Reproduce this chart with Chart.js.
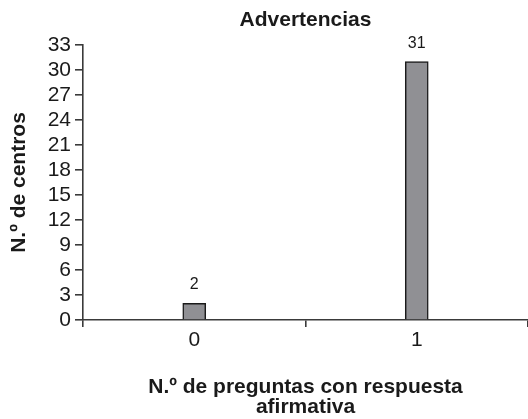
<!DOCTYPE html>
<html>
<head>
<meta charset="utf-8">
<script src="https://cdn.jsdelivr.net/npm/chart.js@4.4.1/dist/chart.umd.min.js"></script>
<style>
  html, body { margin: 0; padding: 0; background: #fff; }
  #wrap { width: 528px; height: 419px; }
</style>
</head>
<body>
<div id="wrap"><canvas id="chart" width="528" height="419"></canvas></div>
<script>
"use strict";

// ── Data ──
const CATEGORIES = ["0", "1"];
const CENTROS = [2, 31];
const Y_MAX = 33;
const Y_STEP = 3;

const FONT = "'Liberation Sans', Arial, sans-serif";
const INK = "#1a1a1a";
const AXIS = "#3a3a3a";

// Value labels above each bar
const barLabels = {
  id: "barLabels",
  afterDatasetsDraw(chart) {
    const { ctx } = chart;
    const meta = chart.getDatasetMeta(0);
    ctx.save();
    ctx.font = `16px ${FONT}`;
    ctx.fillStyle = INK;
    ctx.textAlign = "center";
    ctx.textBaseline = "alphabetic";
    meta.data.forEach((bar, i) => {
      ctx.fillText(String(CENTROS[i]), bar.x, bar.y - 14);
    });
    ctx.restore();
  },
};

new Chart(document.getElementById("chart"), {
  type: "bar",
  data: {
    labels: CATEGORIES,
    datasets: [{
      data: CENTROS,
      backgroundColor: "#909094",
      borderColor: INK,
      borderWidth: 1.5,
      barThickness: 23,
    }],
  },
  options: {
    responsive: false,
    animation: false,
    devicePixelRatio: 1,
    layout: { padding: 0 },
    plugins: {
      legend: { display: false },
      tooltip: { enabled: false },
      title: {
        display: true,
        fullSize: false,
        text: "Advertencias",
        color: INK,
        font: { family: FONT, size: 21, weight: "bold", lineHeight: 1.2 },
        padding: { top: 7.5, bottom: 12.3 },
      },
    },
    scales: {
      x: {
        offset: true,
        afterFit: s => { s.height = 99; },
        grid: { display: true, offset: true, drawOnChartArea: false, drawTicks: true, tickLength: 7, color: AXIS, lineWidth: 1.6 },
        border: { display: true, color: AXIS, width: 1.6 },
        ticks: { color: INK, font: { family: FONT, size: 21 }, padding: 1 },
        title: {
          display: true,
          text: ["N.º de preguntas con respuesta", "afirmativa"],
          color: INK,
          font: { family: FONT, size: 21, weight: "bold", lineHeight: 0.95 },
          padding: { top: 0, bottom: 2 },
        },
      },
      y: {
        min: 0,
        max: Y_MAX,
        afterFit: s => { s.width = 83; },
        grid: { display: true, drawOnChartArea: false, drawTicks: true, tickLength: 8, color: AXIS, lineWidth: 1.6 },
        border: { display: true, color: AXIS, width: 1.6 },
        ticks: { stepSize: Y_STEP, autoSkip: false, color: INK, font: { family: FONT, size: 21, lineHeight: 1 }, padding: 4 },
        title: {
          display: true,
          text: "N.º de centros",
          color: INK,
          font: { family: FONT, size: 21, weight: "bold" },
          padding: { top: 7, bottom: 0 },
        },
      },
    },
  },
  plugins: [barLabels],
});
</script>
</body>
</html>
